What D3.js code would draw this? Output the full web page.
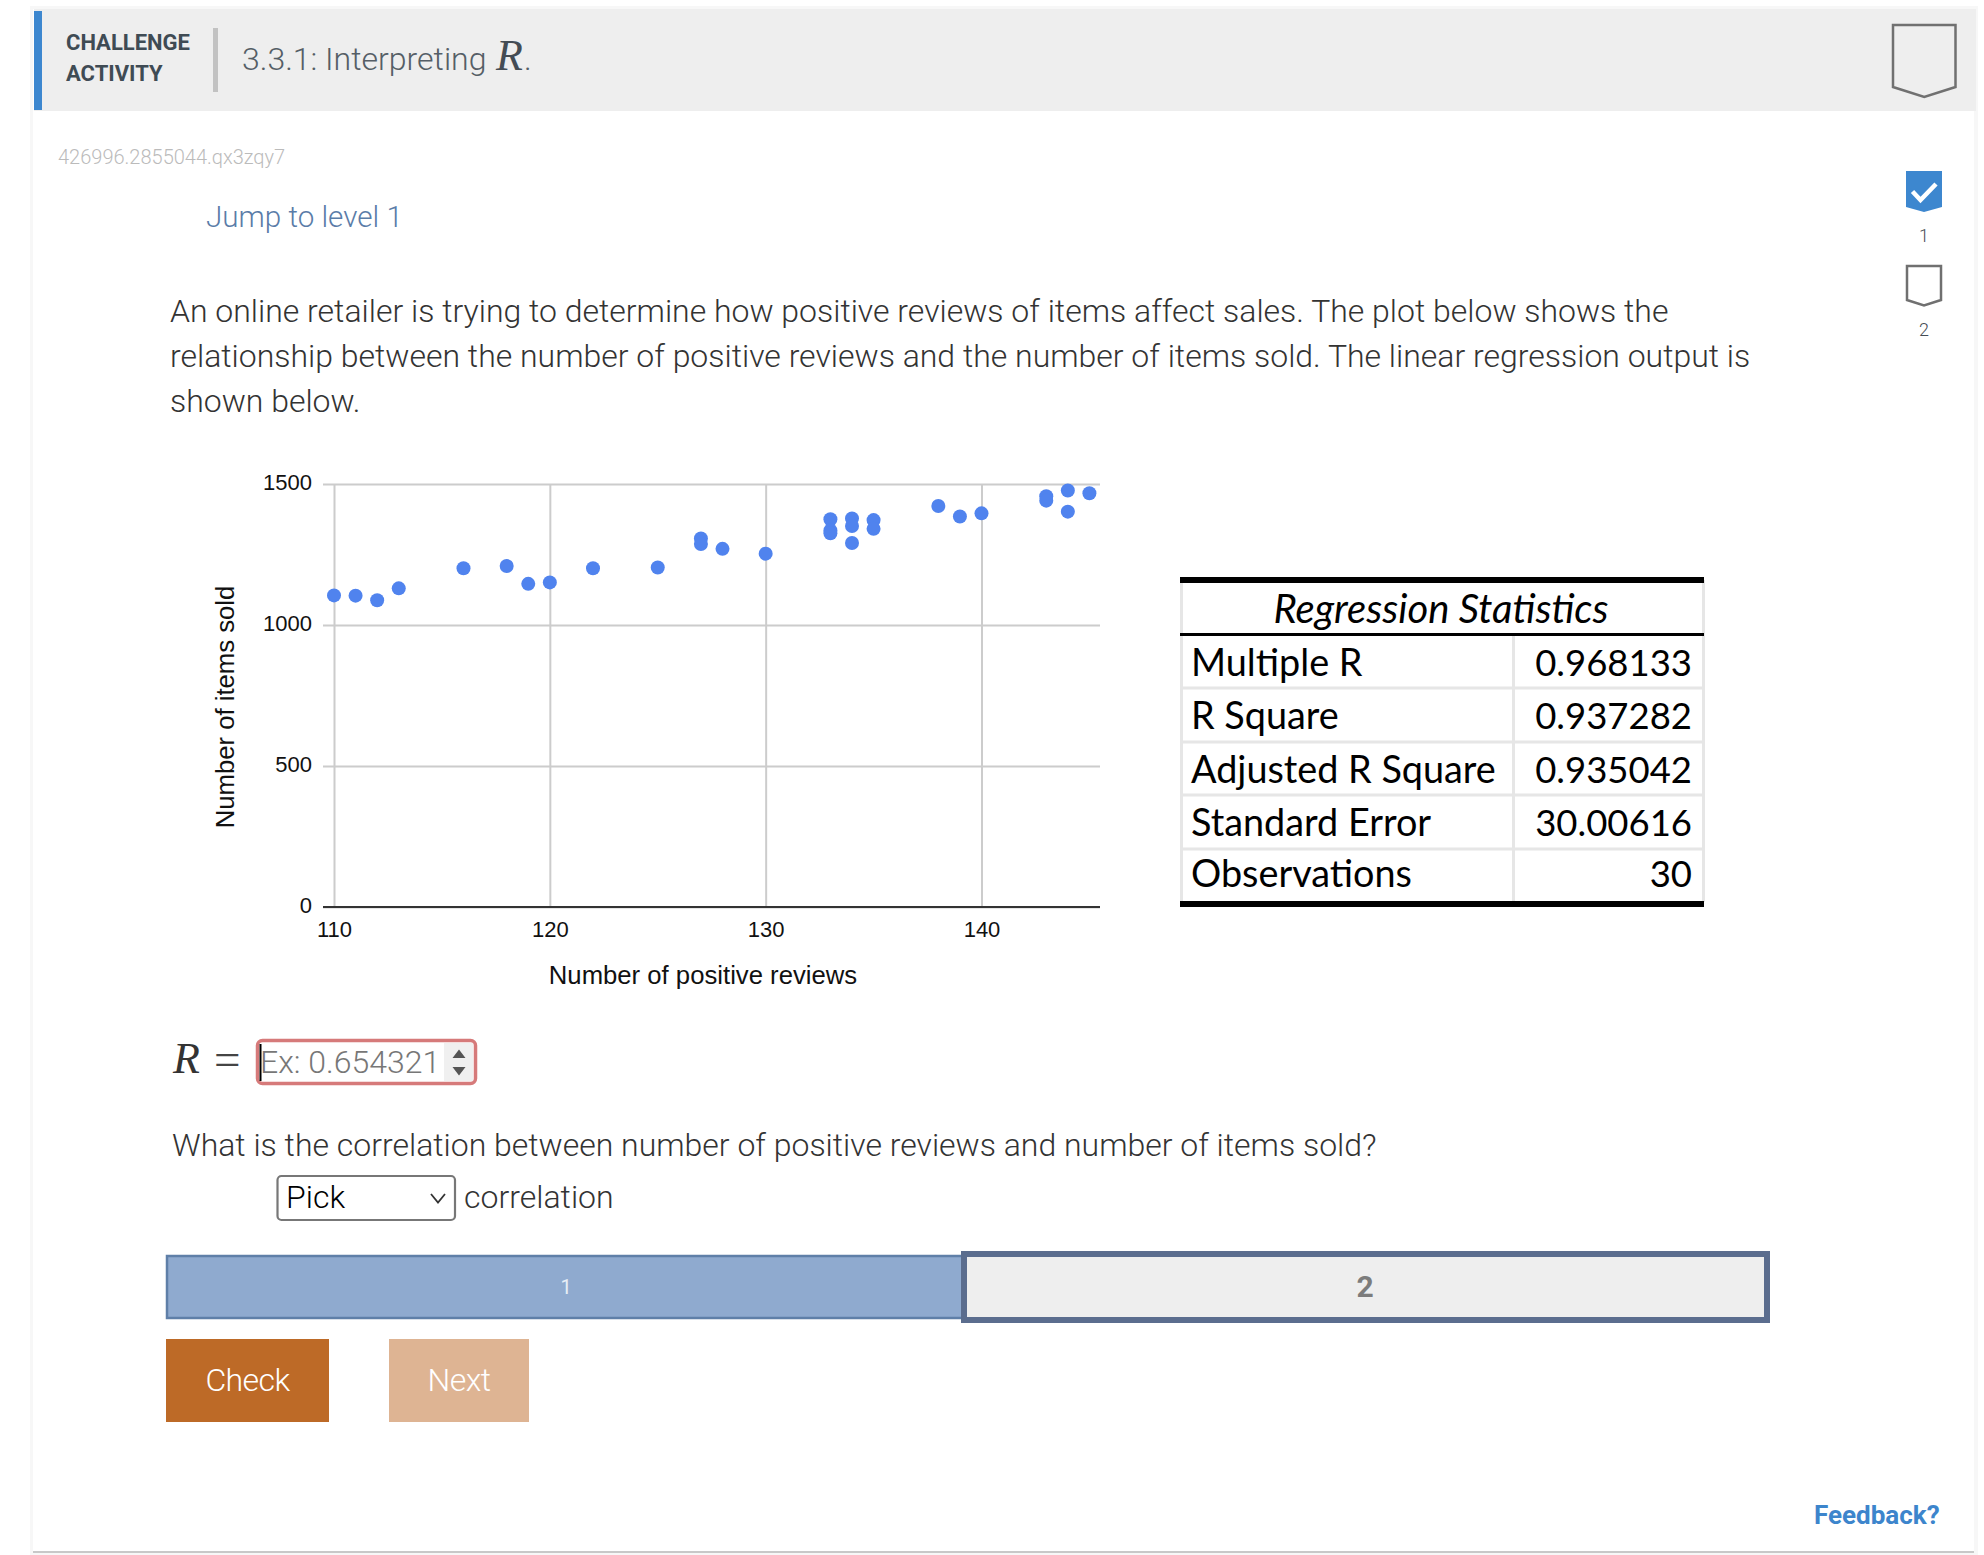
<!DOCTYPE html>
<html>
<head>
<meta charset="utf-8">
<script src="https://cdn.jsdelivr.net/npm/d3@7"></script>
<style>
body { margin: 0; background: #fff; }
svg { display: block; }
text { font-family: Roboto, sans-serif; }
.lt { font-weight: 300; }
</style>
</head>
<body>
<svg id="page" width="1984" height="1555"></svg>
<script>
// values
var reviews = [110,111,112,113,116,118,119,120,122,125,127,127,128,130,133,133,133,134,134,134,135,135,138,139,140,143,143,144,144,145];
var itemsSold = [1105,1104,1088,1130,1201,1209,1146,1151,1201,1204,1307,1287,1270,1253,1375,1335,1325,1378,1351,1291,1372,1341,1422,1385,1396,1457,1441,1477,1402,1467];
var xTicks = [110,120,130,140];
var yTicks = [0,500,1000,1500];

var statNames = ["Multiple R","R Square","Adjusted R Square","Standard Error","Observations"];
var statValues = ["0.968133","0.937282","0.935042","30.00616","30"];

var paragraph = [
  "An online retailer is trying to determine how positive reviews of items affect sales. The plot below shows the",
  "relationship between the number of positive reviews and the number of items sold. The linear regression output is",
  "shown below."
];

var svg = d3.select("#page");

function rect(x, y, w, h, fill) {
  return svg.append("rect").attr("x", x).attr("y", y).attr("width", w).attr("height", h).attr("fill", fill);
}
function label(str, x, y, size, color, cls) {
  return svg.append("text").attr("x", x).attr("y", y).attr("font-size", size)
    .attr("fill", color).attr("class", cls || null).text(str);
}

// card + header
rect(30, 6, 1948, 1549, "#f7f7f7");
rect(33, 9, 1941, 1543, "#fff");
rect(33, 1551, 1941, 2, "#c8c8c8");
rect(34, 9, 1942, 102, "#eeeeee");
rect(34, 11, 8, 99, "#3d87cf");
rect(213, 28, 5, 64, "#c2c2c2");

label("CHALLENGE", 66, 50, 22, "#3f4b54").attr("font-weight", 700);
label("ACTIVITY", 66, 81, 22, "#3f4b54").attr("font-weight", 700);
label("3.3.1: Interpreting ", 242, 70, 32, "#555e66", "lt");
label("R", 496, 70, 44, "#444c54").attr("font-style", "italic").style("font-family", "Liberation Serif");
label(".", 524, 70, 32, "#555e66", "lt");

label("426996.2855044.qx3zqy7", 58, 164, 20, "#bbbbbb", "lt");
label("Jump to level 1", 206, 227, 29.6, "#5a7ca8", "lt");

paragraph.forEach(function(line, i) {
  label(line, 170, 322 + i * 45, 31.98, "#333", "lt");
});

// flags on the right
var flag = d3.line();
function flagPath(x0, x1, top, side, tip) {
  return flag([[x0, top], [x1, top], [x1, side], [(x0 + x1) / 2, tip], [x0, side]]) + "Z";
}
svg.append("path").attr("d", flagPath(1893, 1955.5, 25, 87, 97)).attr("fill", "none").attr("stroke", "#707070").attr("stroke-width", 2.5);
svg.append("path").attr("d", flagPath(1906, 1942, 171, 207, 212)).attr("fill", "#3d87cf");
svg.append("path").attr("d", flag([[1912.5, 191.5], [1920.5, 200], [1936, 184]])).attr("fill", "none").attr("stroke", "#fff").attr("stroke-width", 4.5);
svg.append("path").attr("d", flagPath(1907, 1941, 266, 300, 305.5)).attr("fill", "#fff").attr("stroke", "#707070").attr("stroke-width", 2.5);
label("1", 1924, 242, 18, "#444c54", "lt").attr("text-anchor", "middle");
label("2", 1924, 336, 18, "#444c54", "lt").attr("text-anchor", "middle");

// scatter chart
var x = d3.scaleLinear().domain([110, 140]).range([334, 981.5]);
var y = d3.scaleLinear().domain([0, 1500]).range([907, 484]);
var plotRight = 1100;
var chartFont = "Liberation Sans";

var gy = svg.append("g").attr("transform", "translate(334,0)")
  .call(d3.axisLeft(y).tickValues(yTicks).tickFormat(d3.format("d")).tickSize(11).tickPadding(11));
gy.select(".domain").remove();
gy.selectAll("line").attr("x1", -11).attr("x2", plotRight - 334).attr("stroke", "#cccccc").attr("stroke-width", 2);
gy.selectAll("text").attr("font-size", 22).attr("fill", "#111").attr("y", -1.5).style("font-family", chartFont);

var gx = svg.append("g").attr("transform", "translate(0,484)")
  .call(d3.axisBottom(x).tickValues(xTicks).tickSize(423).tickPadding(14));
gx.select(".domain").remove();
gx.selectAll("line").attr("stroke", "#cccccc").attr("stroke-width", 2);
gx.selectAll("text").attr("font-size", 22).attr("fill", "#111").style("font-family", chartFont);

// zero line on top of the grid
svg.append("line").attr("x1", 323).attr("x2", plotRight).attr("y1", y(0)).attr("y2", y(0)).attr("stroke", "#333").attr("stroke-width", 2);

svg.append("g").selectAll("circle").data(reviews).join("circle")
  .attr("cx", function(d) { return x(d); })
  .attr("cy", function(d, i) { return y(itemsSold[i]); })
  .attr("r", 7)
  .attr("fill", "#5083ee");

label("Number of positive reviews", 703, 984, 25.7, "#111").attr("text-anchor", "middle").style("font-family", chartFont);
svg.append("text").attr("transform", "translate(234,707) rotate(-90)").attr("text-anchor", "middle")
  .attr("font-size", 25.7).attr("fill", "#111").style("font-family", chartFont).text("Number of items sold");

// regression table
var rowLines = [688, 742, 795, 849];
var rowBase = [676, 729, 783, 836, 887];
var tableFont = "Lato";
rect(1180, 580, 3, 322, "#e6e6e6");
rect(1702, 580, 3, 322, "#e6e6e6");
rect(1512, 635, 3, 268, "#e6e6e6");
rowLines.forEach(function(ly) { rect(1180, ly - 1.5, 524, 3, "#e6e6e6"); });
rect(1180, 577, 524, 6, "#000");
rect(1180, 633, 524, 3, "#000");
rect(1180, 901, 524, 6, "#000");
label("Regression Statistics", 1441, 623, 40, "#000").attr("text-anchor", "middle")
  .attr("font-style", "italic").style("font-family", tableFont);
statNames.forEach(function(name, i) {
  label(name, 1191, rowBase[i], 37.8, "#000").style("font-family", tableFont);
  label(statValues[i], 1692, rowBase[i], 36.5, "#000").attr("text-anchor", "end").style("font-family", tableFont);
});

// answer input
label("R", 173, 1073, 44, "#333").attr("font-style", "italic").style("font-family", "Liberation Serif");
label("=", 214, 1074.5, 47, "#444").style("font-family", "Liberation Serif");
svg.append("rect").attr("x", 257.5).attr("y", 1040.5).attr("width", 218).attr("height", 43).attr("rx", 5)
  .attr("fill", "#fff").attr("stroke", "#d67a7a").attr("stroke-width", 3.5);
rect(444, 1043, 29, 38, "#f0f0f0");
rect(259.5, 1044, 2, 37, "#000");
label("Ex: 0.654321", 260, 1073, 32, "#777", "lt");
svg.append("path").attr("d", "M459 1049.5L465.5 1058H452.5ZM459 1075.5L465.5 1067H452.5Z").attr("fill", "#555");

// pick question
label("What is the correlation between number of positive reviews and number of items sold?", 172, 1156, 31.98, "#333", "lt");
svg.append("rect").attr("x", 277.5).attr("y", 1176).attr("width", 177.5).attr("height", 44).attr("rx", 4)
  .attr("fill", "#fff").attr("stroke", "#777").attr("stroke-width", 2.2);
label("Pick", 286, 1208, 32, "#000", "lt");
svg.append("path").attr("d", "M431 1194L438 1202.5L445 1194").attr("fill", "none").attr("stroke", "#333").attr("stroke-width", 1.8);
label("correlation", 464, 1208, 32, "#333", "lt");

// level bar
svg.append("rect").attr("x", 167).attr("y", 1256).attr("width", 796).attr("height", 62)
  .attr("fill", "#8faacf").attr("stroke", "#5f7fa8").attr("stroke-width", 2.5);
label("1", 566, 1294, 20, "#e8eef6").attr("text-anchor", "middle");
svg.append("rect").attr("x", 964).attr("y", 1254).attr("width", 803).attr("height", 66)
  .attr("fill", "#eeeeee").attr("stroke", "#5b6d8e").attr("stroke-width", 6);
label("2", 1365, 1297, 30, "#7c7c7c").attr("text-anchor", "middle").attr("font-weight", 700);

// buttons
rect(166, 1339, 163, 83, "#bd6a27");
rect(389, 1339, 140, 83, "#deb493");
label("Check", 247.5, 1391, 32, "#fff", "lt").attr("text-anchor", "middle").attr("letter-spacing", -0.6);
label("Next", 459, 1391, 32, "#fff", "lt").attr("text-anchor", "middle").attr("letter-spacing", -0.6);

label("Feedback?", 1814, 1524, 26, "#3d85cc").attr("font-weight", 700);
</script>
</body>
</html>
